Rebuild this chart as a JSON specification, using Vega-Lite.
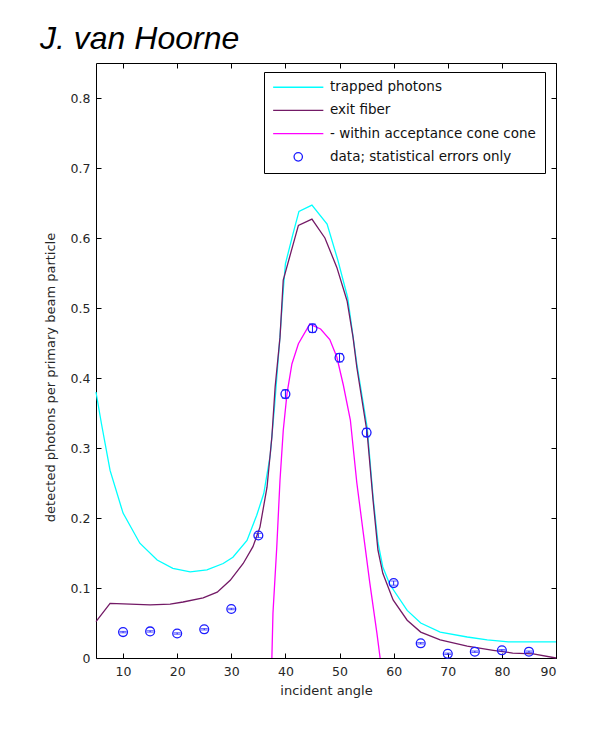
{
  "$schema": "https://vega.github.io/schema/vega-lite/v6.json",
  "autosize": "none",
  "width": 460,
  "height": 595,
  "padding": {"left": 96, "top": 63, "right": 44, "bottom": 76},
  "background": "white",
  "title": {"text": "J. van Hoorne", "anchor": "start", "frame": "group", "dx": -56, "dy": 31, "fontSize": 32, "fontStyle": "italic", "fontWeight": "normal", "font": "Liberation Sans", "color": "#000", "baseline": "alphabetic", "offset": 13},
  "datasets": {
    "curves": [
      {"s": "trapped photons", "a": 5, "v": 0.38},
      {"s": "trapped photons", "a": 6, "v": 0.335},
      {"s": "trapped photons", "a": 7.6, "v": 0.268},
      {"s": "trapped photons", "a": 10, "v": 0.207},
      {"s": "trapped photons", "a": 13.1, "v": 0.164},
      {"s": "trapped photons", "a": 16.3, "v": 0.14},
      {"s": "trapped photons", "a": 19.2, "v": 0.128},
      {"s": "trapped photons", "a": 22.4, "v": 0.123},
      {"s": "trapped photons", "a": 25.5, "v": 0.126},
      {"s": "trapped photons", "a": 28.5, "v": 0.135},
      {"s": "trapped photons", "a": 30.3, "v": 0.144},
      {"s": "trapped photons", "a": 32.9, "v": 0.168},
      {"s": "trapped photons", "a": 34.7, "v": 0.204},
      {"s": "trapped photons", "a": 36, "v": 0.235},
      {"s": "trapped photons", "a": 37.2, "v": 0.29},
      {"s": "trapped photons", "a": 38, "v": 0.36},
      {"s": "trapped photons", "a": 38.6, "v": 0.42},
      {"s": "trapped photons", "a": 39, "v": 0.46},
      {"s": "trapped photons", "a": 39.6, "v": 0.525},
      {"s": "trapped photons", "a": 40, "v": 0.563},
      {"s": "trapped photons", "a": 41.4, "v": 0.606},
      {"s": "trapped photons", "a": 42.5, "v": 0.638},
      {"s": "trapped photons", "a": 44.9, "v": 0.647},
      {"s": "trapped photons", "a": 47.7, "v": 0.62},
      {"s": "trapped photons", "a": 49.7, "v": 0.568},
      {"s": "trapped photons", "a": 51.5, "v": 0.515},
      {"s": "trapped photons", "a": 53.2, "v": 0.42},
      {"s": "trapped photons", "a": 55.1, "v": 0.33},
      {"s": "trapped photons", "a": 56.2, "v": 0.23},
      {"s": "trapped photons", "a": 57.1, "v": 0.165},
      {"s": "trapped photons", "a": 58, "v": 0.13},
      {"s": "trapped photons", "a": 59.3, "v": 0.105},
      {"s": "trapped photons", "a": 62.5, "v": 0.068},
      {"s": "trapped photons", "a": 65, "v": 0.05},
      {"s": "trapped photons", "a": 68.6, "v": 0.037},
      {"s": "trapped photons", "a": 73.6, "v": 0.03},
      {"s": "trapped photons", "a": 77.3, "v": 0.026},
      {"s": "trapped photons", "a": 81.2, "v": 0.023},
      {"s": "trapped photons", "a": 90, "v": 0.023},
      {"s": "exit fiber", "a": 5, "v": 0.052},
      {"s": "exit fiber", "a": 7.6, "v": 0.078},
      {"s": "exit fiber", "a": 11.3, "v": 0.077},
      {"s": "exit fiber", "a": 15, "v": 0.076},
      {"s": "exit fiber", "a": 18.7, "v": 0.077},
      {"s": "exit fiber", "a": 21.1, "v": 0.08},
      {"s": "exit fiber", "a": 24.8, "v": 0.086},
      {"s": "exit fiber", "a": 27.4, "v": 0.094},
      {"s": "exit fiber", "a": 29.8, "v": 0.111},
      {"s": "exit fiber", "a": 32.2, "v": 0.135},
      {"s": "exit fiber", "a": 34, "v": 0.159},
      {"s": "exit fiber", "a": 35.3, "v": 0.187},
      {"s": "exit fiber", "a": 36.6, "v": 0.244},
      {"s": "exit fiber", "a": 37.5, "v": 0.316},
      {"s": "exit fiber", "a": 38.1, "v": 0.387},
      {"s": "exit fiber", "a": 39, "v": 0.458},
      {"s": "exit fiber", "a": 39.6, "v": 0.54},
      {"s": "exit fiber", "a": 42.4, "v": 0.618},
      {"s": "exit fiber", "a": 44.9, "v": 0.627},
      {"s": "exit fiber", "a": 47.3, "v": 0.6},
      {"s": "exit fiber", "a": 49.5, "v": 0.558},
      {"s": "exit fiber", "a": 51.4, "v": 0.51},
      {"s": "exit fiber", "a": 52.5, "v": 0.458},
      {"s": "exit fiber", "a": 53.2, "v": 0.415},
      {"s": "exit fiber", "a": 55.1, "v": 0.322},
      {"s": "exit fiber", "a": 56.2, "v": 0.225},
      {"s": "exit fiber", "a": 57.1, "v": 0.154},
      {"s": "exit fiber", "a": 58, "v": 0.121},
      {"s": "exit fiber", "a": 59.9, "v": 0.083},
      {"s": "exit fiber", "a": 62.5, "v": 0.054},
      {"s": "exit fiber", "a": 65, "v": 0.037},
      {"s": "exit fiber", "a": 68.6, "v": 0.026},
      {"s": "exit fiber", "a": 73.6, "v": 0.017},
      {"s": "exit fiber", "a": 78.4, "v": 0.011},
      {"s": "exit fiber", "a": 82, "v": 0.007},
      {"s": "exit fiber", "a": 85.8, "v": 0.006},
      {"s": "exit fiber", "a": 90, "v": 0},
      {"s": "- within acceptance cone cone", "a": 37.5, "v": 0},
      {"s": "- within acceptance cone cone", "a": 37.7, "v": 0.064},
      {"s": "- within acceptance cone cone", "a": 38.4, "v": 0.158},
      {"s": "- within acceptance cone cone", "a": 39, "v": 0.254},
      {"s": "- within acceptance cone cone", "a": 39.6, "v": 0.325},
      {"s": "- within acceptance cone cone", "a": 40.3, "v": 0.378},
      {"s": "- within acceptance cone cone", "a": 41.2, "v": 0.42},
      {"s": "- within acceptance cone cone", "a": 42.4, "v": 0.449},
      {"s": "- within acceptance cone cone", "a": 44.5, "v": 0.477},
      {"s": "- within acceptance cone cone", "a": 46.5, "v": 0.47},
      {"s": "- within acceptance cone cone", "a": 48.2, "v": 0.455},
      {"s": "- within acceptance cone cone", "a": 49.5, "v": 0.43},
      {"s": "- within acceptance cone cone", "a": 50.7, "v": 0.39},
      {"s": "- within acceptance cone cone", "a": 52, "v": 0.34},
      {"s": "- within acceptance cone cone", "a": 53.2, "v": 0.25},
      {"s": "- within acceptance cone cone", "a": 54.4, "v": 0.178},
      {"s": "- within acceptance cone cone", "a": 55.6, "v": 0.107},
      {"s": "- within acceptance cone cone", "a": 56.9, "v": 0.036},
      {"s": "- within acceptance cone cone", "a": 57.5, "v": 0}
    ],
    "points": [
      {"s": "data; statistical errors only", "a": 10, "v": 0.037, "lo": 0.036, "hi": 0.038},
      {"s": "data; statistical errors only", "a": 15, "v": 0.038, "lo": 0.037, "hi": 0.039},
      {"s": "data; statistical errors only", "a": 20, "v": 0.035, "lo": 0.034, "hi": 0.036},
      {"s": "data; statistical errors only", "a": 25, "v": 0.041, "lo": 0.04, "hi": 0.042},
      {"s": "data; statistical errors only", "a": 30, "v": 0.07, "lo": 0.069, "hi": 0.071},
      {"s": "data; statistical errors only", "a": 35, "v": 0.175, "lo": 0.172, "hi": 0.178},
      {"s": "data; statistical errors only", "a": 40, "v": 0.377, "lo": 0.371, "hi": 0.383},
      {"s": "data; statistical errors only", "a": 45, "v": 0.471, "lo": 0.465, "hi": 0.477},
      {"s": "data; statistical errors only", "a": 50, "v": 0.429, "lo": 0.423, "hi": 0.435},
      {"s": "data; statistical errors only", "a": 55, "v": 0.322, "lo": 0.316, "hi": 0.328},
      {"s": "data; statistical errors only", "a": 60, "v": 0.107, "lo": 0.104, "hi": 0.11},
      {"s": "data; statistical errors only", "a": 65, "v": 0.021, "lo": 0.02, "hi": 0.022},
      {"s": "data; statistical errors only", "a": 70, "v": 0.006, "lo": 0.005, "hi": 0.007},
      {"s": "data; statistical errors only", "a": 75, "v": 0.009, "lo": 0.008, "hi": 0.01},
      {"s": "data; statistical errors only", "a": 80, "v": 0.011, "lo": 0.01, "hi": 0.012},
      {"s": "data; statistical errors only", "a": 85, "v": 0.009, "lo": 0.008, "hi": 0.01}
    ]
  },
  "resolve": {"axis": {"x": "independent", "y": "independent"}},
  "layer": [
    {
      "data": {"name": "curves"},
      "mark": {"type": "line", "strokeWidth": 1.3},
      "encoding": {
        "x": {"field": "a", "type": "quantitative", "scale": {"domain": [5, 90], "nice": false, "zero": false},
              "axis": {"orient": "bottom", "title": "incident angle", "values": [10, 20, 30, 40, 50, 60, 70, 80, 90], "tickSize": -5, "labelPadding": 12, "titlePadding": 7, "grid": false}},
        "y": {"field": "v", "type": "quantitative", "scale": {"domain": [0, 0.85], "nice": false, "zero": false},
              "axis": {"orient": "left", "title": "detected photons per primary beam particle", "values": [0, 0.1, 0.2, 0.3, 0.4, 0.5, 0.6, 0.7, 0.8], "format": ".1~f", "tickSize": -5, "labelPadding": 11, "grid": false, "titleX": -46, "titleY": 314, "titleBaseline": "middle"}},
        "color": {"field": "s", "type": "nominal",
                  "scale": {"domain": ["trapped photons", "exit fiber", "- within acceptance cone cone", "data; statistical errors only"], "range": ["#00FFFF", "#731A66", "#FF00FF", "#1A1AFF"]},
                  "legend": {"title": null, "orient": "none", "legendX": 168, "legendY": 9, "direction": "vertical"}},
        "order": {"field": "a", "type": "quantitative"}
      }
    },
    {
      "data": {"name": "points"},
      "mark": {"type": "errorbar", "ticks": {"size": 7, "color": "#1A1AFF"}, "color": "#1A1AFF", "thickness": 1},
      "encoding": {
        "x": {"field": "a", "type": "quantitative", "axis": null},
        "y": {"field": "lo", "type": "quantitative", "axis": null},
        "y2": {"field": "hi"}
      }
    },
    {
      "data": {"name": "points"},
      "mark": {"type": "point", "filled": false, "size": 78, "strokeWidth": 1.3, "opacity": 1},
      "encoding": {
        "x": {"field": "a", "type": "quantitative", "axis": null},
        "y": {"field": "v", "type": "quantitative", "axis": null},
        "color": {"field": "s", "type": "nominal"},
        "shape": {"field": "s", "type": "nominal",
                  "scale": {"domain": ["trapped photons", "exit fiber", "- within acceptance cone cone", "data; statistical errors only"], "range": ["M-6,0H6", "M-6,0H6", "M-6,0H6", "circle"]}}
      }
    },
    {
      "data": {"name": "points"},
      "mark": {"type": "point", "opacity": 0},
      "encoding": {
        "x": {"field": "a", "type": "quantitative",
              "axis": {"orient": "top", "title": null, "labels": false, "values": [10, 20, 30, 40, 50, 60, 70, 80, 90], "tickSize": -5, "grid": false}},
        "y": {"field": "v", "type": "quantitative",
              "axis": {"orient": "right", "title": null, "labels": false, "values": [0, 0.1, 0.2, 0.3, 0.4, 0.5, 0.6, 0.7, 0.8], "tickSize": -5, "grid": false}}
      }
    }
  ],
  "config": {
    "font": "DejaVu Sans",
    "view": {"stroke": null},
    "axis": {"domainColor": "#000", "domainWidth": 1, "tickColor": "#000", "tickWidth": 1, "labelFont": "DejaVu Sans", "labelFontSize": 12.5, "labelColor": "#262626", "titleFont": "DejaVu Sans", "titleFontSize": 13, "titleFontWeight": "normal", "titleColor": "#262626"},
    "legend": {"strokeColor": "#000", "fillColor": "white", "padding": 8.5, "labelFont": "DejaVu Sans", "labelFontSize": 13.5, "labelColor": "#111", "symbolSize": 70, "symbolStrokeWidth": 1.3, "rowPadding": 8.2, "symbolOffset": 19, "labelOffset": 25, "labelLimit": 400}
  }
}
